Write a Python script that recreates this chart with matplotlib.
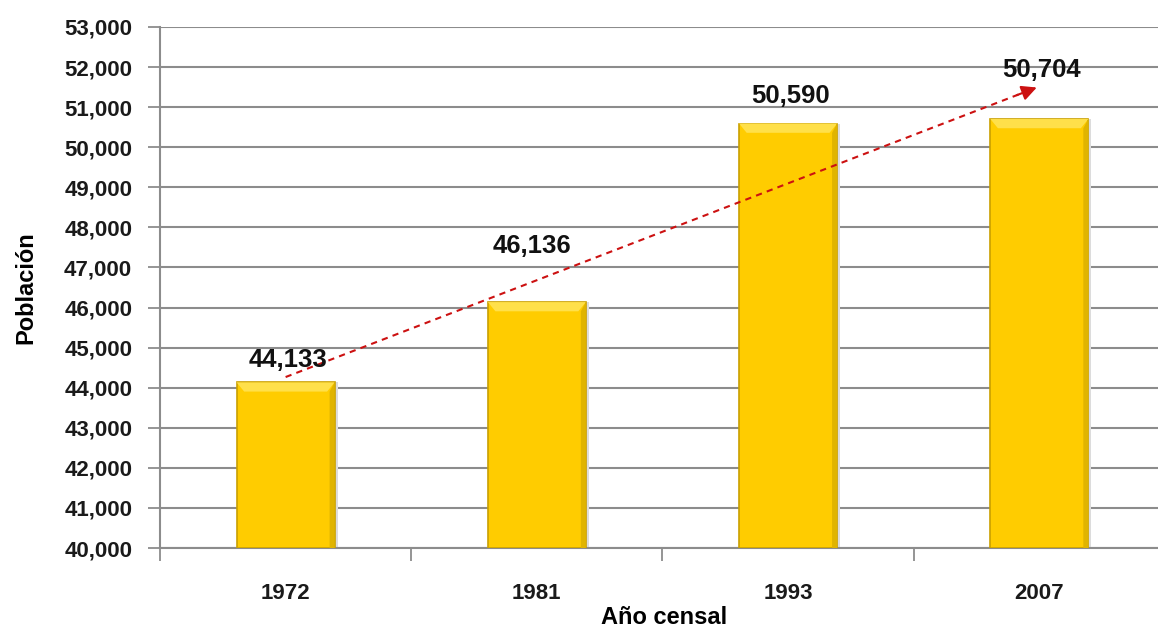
import numpy as np
import matplotlib
matplotlib.use("Agg")
import matplotlib.pyplot as plt
from matplotlib.ticker import FuncFormatter

# datos del censo
anios = ["1972", "1981", "1993", "2007"]
poblacion = [44133, 46136, 50590, 50704]
base = 40000
y_ticks = list(range(40000, 53001, 1000))

plt.rcParams['font.family'] = ['Liberation Sans', 'DejaVu Sans']

fig = plt.figure(figsize=(11.58, 6.39), dpi=100)
ax = fig.add_axes([160 / 1158, 1 - 548 / 639, 1008 / 1158, (548 - 27) / 639])

x = np.arange(len(anios))
alturas = [p - base for p in poblacion]

# barras doradas con un poco de relieve
ax.bar(x + 0.012, alturas, width=0.39, bottom=base, color='#dcdcdc', zorder=2)
barras = ax.bar(x, alturas, width=0.39, bottom=base, color='#FFCC00',
                edgecolor='#C9A000', linewidth=1.2, zorder=3)
for b in barras:
    x0, w, top = b.get_x(), b.get_width(), b.get_y() + b.get_height()
    # franja clara arriba y oscura a la derecha
    ax.fill([x0, x0 + w, x0 + w - 0.03, x0 + 0.03], [top, top, top - 230, top - 230],
            color='#FFE04A', zorder=4, lw=0)
    ax.fill([x0 + w, x0 + w, x0 + w - 0.02, x0 + w - 0.02],
            [base, top, top - 230, base], color='#E0B400', zorder=4, lw=0)

# linea de tendencia lineal
m, c = np.polyfit(x + 1, poblacion, 1)
y0, y1 = m * 1 + c, m * 4 + c
ax.plot([0, 2.92], [y0, y0 + (y1 - y0) * 2.92 / 3], ls=(0, (3, 2.5)), color='#CC1111',
        lw=1.5, zorder=5)
ax.annotate("", xy=(3, y1), xytext=(2.9, y0 + (y1 - y0) * 2.9 / 3),
            arrowprops=dict(arrowstyle='-|>,head_length=0.9,head_width=0.45',
                            color='#CC1111', lw=1.5), zorder=5)

# etiquetas de valores (movidas a mano en el original)
desp = [(0.01, 560), (-0.02, 1400), (0.01, 700), (0.01, 1220)]
for i, p in enumerate(poblacion):
    ax.text(x[i] + desp[i][0], p + desp[i][1], f"{p:,}", ha='center', va='center',
            fontsize=18.5, fontweight='bold', color='#111111', zorder=6)

ax.set_ylim(40000, 53000)
ax.set_xlim(-0.488, 3.512)
ax.set_yticks(y_ticks)
ax.yaxis.set_major_formatter(FuncFormatter(lambda v, _: f"{int(v):,}"))
ax.set_xticks(x)
ax.set_xticklabels(anios)
ax.set_xticks(np.arange(len(anios) + 1) - 0.5, minor=True)
ax.tick_params(axis='y', labelsize=16, length=9, width=1.3, color='#8c8c8c', pad=11)
ax.tick_params(axis='x', labelsize=16, length=0, pad=25)
ax.tick_params(axis='x', which='minor', length=9, width=1.3, color='#8c8c8c')
for lab in ax.get_yticklabels() + ax.get_xticklabels():
    lab.set_fontweight('bold')
    lab.set_color('#1a1a1a')

ax.grid(axis='y', color='#8c8c8c', lw=1.5, zorder=0)
ax.set_axisbelow(True)
for s in ['top', 'right']:
    ax.spines[s].set_visible(False)
for s in ['left', 'bottom']:
    ax.spines[s].set_color('#8c8c8c')
    ax.spines[s].set_linewidth(1.5)

ax.set_xlabel("Año censal", fontsize=17, fontweight='bold', labelpad=2)
ax.set_ylabel("Población", fontsize=17, fontweight='bold', labelpad=19)

fig.savefig("out.png", dpi=100)
